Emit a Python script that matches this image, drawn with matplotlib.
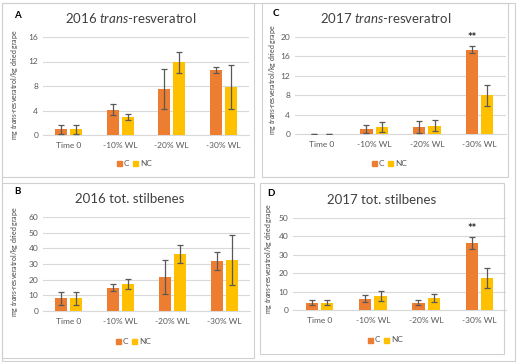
"""Stilbene content in grape berries, 2016/2017, C vs NC."""
import matplotlib
matplotlib.use('Agg')
import matplotlib.pyplot as plt
from matplotlib.patches import Rectangle
import numpy as np

plt.rcParams['font.family'] = ['Lato', 'DejaVu Sans']
plt.rcParams['mathtext.fontset'] = 'custom'
plt.rcParams['mathtext.it'] = 'Lato:italic'
plt.rcParams['mathtext.rm'] = 'Lato'

categories = ['Time 0', '-10% WL', '-20% WL', '-30% WL']

# 2016 trans-resveratrol (A)
a_c = [0.9, 4.1, 7.5, 10.6]
a_c_err = [0.7, 0.9, 3.3, 0.5]
a_nc = [0.9, 2.9, 11.9, 7.8]
a_nc_err = [0.7, 0.5, 1.7, 3.6]

# 2017 trans-resveratrol (C)
c_c = [0.1, 1.1, 1.4, 17.4]
c_c_err = [0.0, 0.8, 1.2, 0.75]
c_nc = [0.1, 1.4, 1.7, 8.0]
c_nc_err = [0.0, 1.0, 1.1, 2.2]

# 2016 tot. stilbenes (B)
b_c = [8.1, 15.0, 21.6, 32.0]
b_c_err = [4.0, 2.4, 10.8, 5.6]
b_nc = [8.1, 17.3, 36.5, 32.5]
b_nc_err = [4.0, 3.3, 5.8, 16.0]

# 2017 tot. stilbenes (D)
d_c = [4.0, 6.1, 4.0, 36.3]
d_c_err = [1.2, 1.8, 1.2, 3.3]
d_nc = [4.0, 7.6, 6.5, 17.3]
d_nc_err = [1.2, 2.8, 2.2, 5.4]

C_COL = '#ED7D31'
NC_COL = '#FFC000'
GRAY = '#595959'

fig = plt.figure(figsize=(5.17, 3.62), dpi=100)
W, H = 517, 362


def px_rect(x0, y0, x1, y1):
    return [x0 / W, 1 - y1 / H, (x1 - x0) / W, (y1 - y0) / H]


# panel frames
for x0, y0, x1, y1 in [(2, 3, 515, 361), (2, 3, 254, 177), (262, 3, 508, 177),
                       (2, 183, 254, 358), (260, 183, 504, 354)]:
    fig.add_artist(Rectangle((x0 / W, 1 - y1 / H), (x1 - x0) / W, (y1 - y0) / H,
                             transform=fig.transFigure, fill=False,
                             edgecolor='#D0D0D0', linewidth=0.8))

panels = [
    dict(rect=(43, 37, 249, 135), c=a_c, ce=a_c_err, nc=a_nc, nce=a_nc_err,
         ymax=16, step=4, title=('2016 ', 'trans', '-resveratrol'), tx=131, ty=18,
         letter='A', lx=17, ly=16, ylx=15, yly=85, legy=164, legx=133, stars=False),
    dict(rect=(295, 37, 506, 134), c=c_c, ce=c_c_err, nc=c_nc, nce=c_nc_err,
         ymax=20, step=4, title=('2017 ', 'trans', '-resveratrol'), tx=386, ty=18,
         letter='C', lx=276, ly=13, ylx=273, yly=80, legy=164, legx=388, stars=True),
    dict(rect=(43, 217, 250, 311), c=b_c, ce=b_c_err, nc=b_nc, nce=b_nc_err,
         ymax=60, step=10, title=('2016 tot. stilbenes',), tx=130, ty=199,
         letter='B', lx=17, ly=192, ylx=15, yly=262, legy=341, legx=132, stars=False),
    dict(rect=(293, 218, 506, 310), c=d_c, ce=d_c_err, nc=d_nc, nce=d_nc_err,
         ymax=50, step=10, title=('2017 tot. stilbenes',), tx=382, ty=200,
         letter='D', lx=271, ly=193, ylx=268, yly=259, legy=340, legx=384, stars=True),
]

x = np.arange(len(categories))
bw = 0.23
off = 0.145

for p in panels:
    ax = fig.add_axes(px_rect(*p['rect']))
    ek = dict(ecolor=GRAY, elinewidth=0.9, capsize=2.2, capthick=0.9)
    ax.bar(x - off, p['c'], bw, yerr=p['ce'], color=C_COL, error_kw=ek, zorder=3)
    ax.bar(x + off, p['nc'], bw, yerr=p['nce'], color=NC_COL, error_kw=ek, zorder=3)
    ax.set_xlim(-0.5, 3.5)
    ax.set_ylim(0, p['ymax'])
    ax.set_yticks(np.arange(0, p['ymax'] + 1, p['step']))
    ax.yaxis.grid(True, color='#D9D9D9', linewidth=0.8, zorder=0)
    ax.set_axisbelow(True)
    for s in ['top', 'right', 'left']:
        ax.spines[s].set_visible(False)
    ax.spines['bottom'].set_color('#D9D9D9')
    ax.spines['bottom'].set_linewidth(0.8)
    ax.tick_params(axis='y', length=0, labelsize=6, labelcolor=GRAY, pad=3.5)
    ax.tick_params(axis='x', length=0, labelsize=6, labelcolor=GRAY, pad=5)
    ax.set_xticks(x)
    ax.set_xticklabels(categories)

    if p['stars']:
        ax.annotate('**', (3 - off, p['c'][3] + p['ce'][3]), xytext=(0, 2),
                    textcoords='offset points', ha='center', va='bottom',
                    fontsize=8, fontweight='bold', color='#222222')

    # title
    t = p['title']
    if len(t) == 3:
        label = t[0] + r'$\it{' + t[1] + '}$' + t[2]
    else:
        label = t[0]
    fig.text(p['tx'] / W, 1 - p['ty'] / H, label, ha='center', va='center',
             fontsize=9.5, color='#404040')

    fig.text(p['lx'] / W, 1 - p['ly'] / H, p['letter'], ha='center', va='center',
             fontsize=7, fontweight='bold', color='black')
    fig.text(p['ylx'] / W, 1 - p['yly'] / H,
             r'mg $\it{trans}$-resveratrol/kg dried grape', rotation=90,
             ha='center', va='center', fontsize=5, color='#404040')

    # legend
    ly = 1 - p['legy'] / H
    lx = p['legx']
    for dx, col, lab in [(-16, C_COL, 'C'), (0, NC_COL, 'NC')]:
        fig.add_artist(Rectangle(((lx + dx) / W, ly - 2.5 / H), 5 / W, 5 / H,
                                 transform=fig.transFigure, color=col))
        fig.text((lx + dx + 7) / W, ly, lab, ha='left', va='center',
                 fontsize=6, color=GRAY)

fig.savefig('out.png', dpi=100)
